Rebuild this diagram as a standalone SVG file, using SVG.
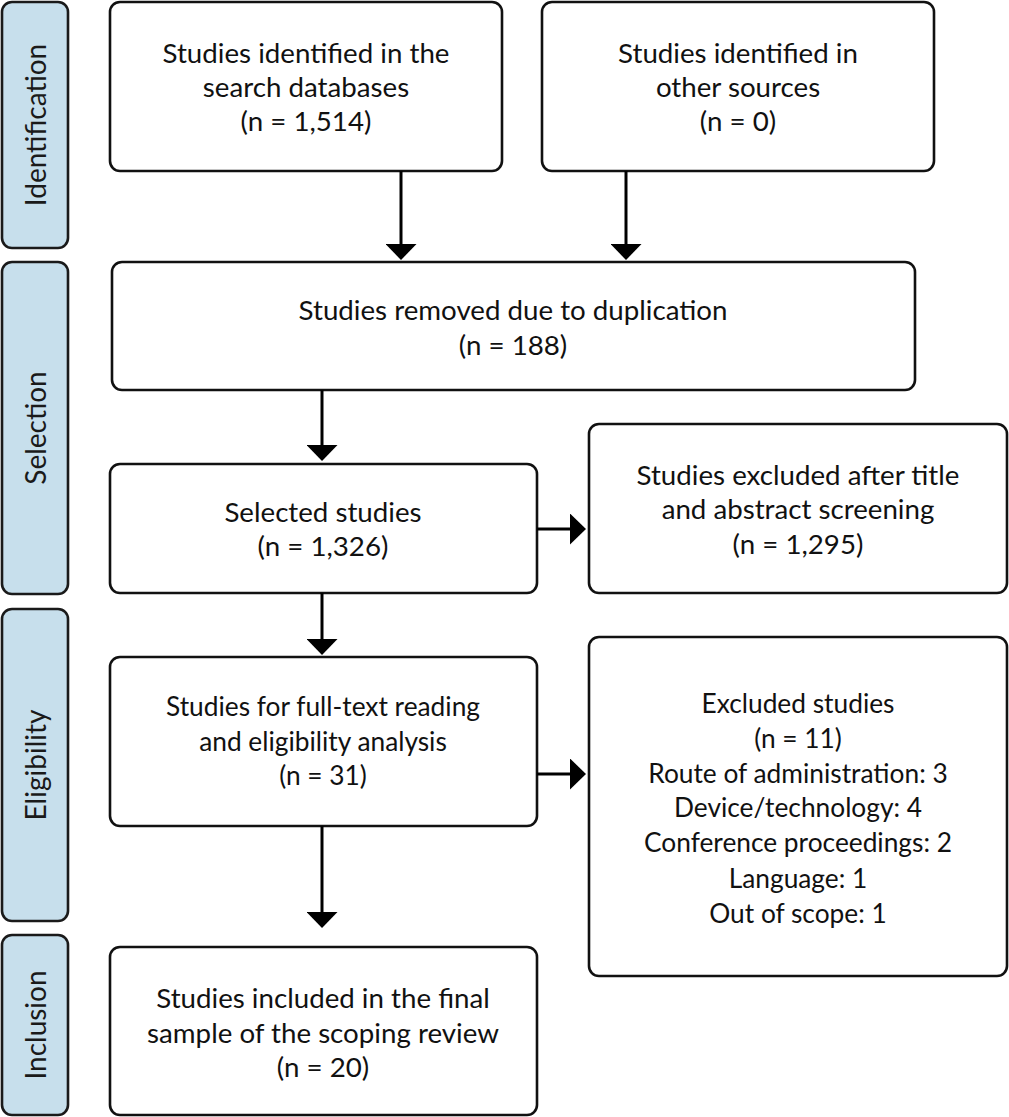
<svg xmlns="http://www.w3.org/2000/svg" width="1009" height="1117" viewBox="0 0 1009 1117">
<defs>
<style>
.box{fill:#ffffff;stroke:#111111;stroke-width:2.6}
.side{fill:#c7dfec;stroke:#1a1a1a;stroke-width:2.6}
.t{font-family:"Lato","Liberation Sans",sans-serif;font-size:27.7px;fill:#111111;text-anchor:middle}
.n{font-family:"Lato","Liberation Sans",sans-serif;font-size:26.3px;fill:#111111;text-anchor:middle}
.s{font-family:"Lato","Liberation Sans",sans-serif;font-size:28px;fill:#1a1a1a;text-anchor:middle}
.c{stroke:#000000;stroke-width:3;fill:none;marker-end:url(#ah)}
</style>
<marker id="ah" markerUnits="userSpaceOnUse" markerWidth="16" markerHeight="31" refX="0" refY="15.5" orient="auto" viewBox="0 0 16 31">
<path d="M0,0 L16,15.5 L0,31 Z" fill="#000000"/>
</marker>
</defs>
<rect width="1009" height="1117" fill="#ffffff"/>

<g id="phase-identification">
<rect class="side" x="2" y="2" width="66" height="246" rx="10"/>
<text class="s" transform="translate(46,125) rotate(-90)">Identification</text>
</g>
<g id="phase-selection">
<rect class="side" x="2" y="262" width="66" height="332" rx="10"/>
<text class="s" transform="translate(46,428) rotate(-90)">Selection</text>
</g>
<g id="phase-eligibility">
<rect class="side" x="2" y="609" width="66" height="312" rx="10"/>
<text class="s" transform="translate(46,765) rotate(-90)">Eligibility</text>
</g>
<g id="phase-inclusion">
<rect class="side" x="2" y="935" width="66" height="180" rx="10"/>
<text class="s" transform="translate(46,1025) rotate(-90)">Inclusion</text>
</g>

<g id="node-databases">
<rect class="box" x="110" y="2" width="392" height="169" rx="10"/>
<text class="t" x="306" y="63">Studies identified in the</text>
<text class="t" x="306" y="97">search databases</text>
<text class="t" x="306" y="131">(n = 1,514)</text>
</g>
<g id="node-other">
<rect class="box" x="542" y="2" width="392" height="169" rx="10"/>
<text class="t" x="738" y="63">Studies identified in</text>
<text class="t" x="738" y="97">other sources</text>
<text class="t" x="738" y="131">(n = 0)</text>
</g>
<g id="node-duplicates">
<rect class="box" x="112" y="262" width="803" height="128" rx="10"/>
<text class="t" x="513" y="320">Studies removed due to duplication</text>
<text class="t" x="513" y="355">(n = 188)</text>
</g>
<g id="node-selected">
<rect class="box" x="110" y="464" width="427" height="129" rx="10"/>
<text class="t" x="323" y="522">Selected studies</text>
<text class="t" x="323" y="556">(n = 1,326)</text>
</g>
<g id="node-excluded-screening">
<rect class="box" x="589" y="424" width="418" height="169" rx="10"/>
<text class="t" x="798" y="485">Studies excluded after title</text>
<text class="t" x="798" y="519">and abstract screening</text>
<text class="t" x="798" y="554">(n = 1,295)</text>
</g>
<g id="node-fulltext">
<rect class="box" x="110" y="657" width="427" height="169" rx="10"/>
<text class="n" x="323" y="716">Studies for full-text reading</text>
<text class="n" x="323" y="751">and eligibility analysis</text>
<text class="n" x="323" y="785">(n = 31)</text>
</g>
<g id="node-excluded-fulltext">
<rect class="box" x="589" y="637" width="418" height="339" rx="10"/>
<text class="n" x="798" y="713">Excluded studies</text>
<text class="n" x="798" y="748">(n = 11)</text>
<text class="n" x="798" y="783">Route of administration: 3</text>
<text class="n" x="798" y="817">Device/technology: 4</text>
<text class="n" x="798" y="852">Conference proceedings: 2</text>
<text class="n" x="798" y="888">Language: 1</text>
<text class="n" x="798" y="923">Out of scope: 1</text>
</g>
<g id="node-included">
<rect class="box" x="110" y="947" width="427" height="168" rx="10"/>
<text class="t" x="323" y="1008">Studies included in the final</text>
<text class="t" x="323" y="1043">sample of the scoping review</text>
<text class="t" x="323" y="1077">(n = 20)</text>
</g>

<g id="connectors">
<line class="c" x1="401" y1="171" x2="401" y2="244"/>
<line class="c" x1="626" y1="171" x2="626" y2="244"/>
<line class="c" x1="322" y1="390" x2="322" y2="445"/>
<line class="c" x1="537" y1="529" x2="570" y2="529"/>
<line class="c" x1="322" y1="593" x2="322" y2="639"/>
<line class="c" x1="537" y1="774" x2="570" y2="774"/>
<line class="c" x1="322" y1="826" x2="322" y2="912"/>
</g>
</svg>
